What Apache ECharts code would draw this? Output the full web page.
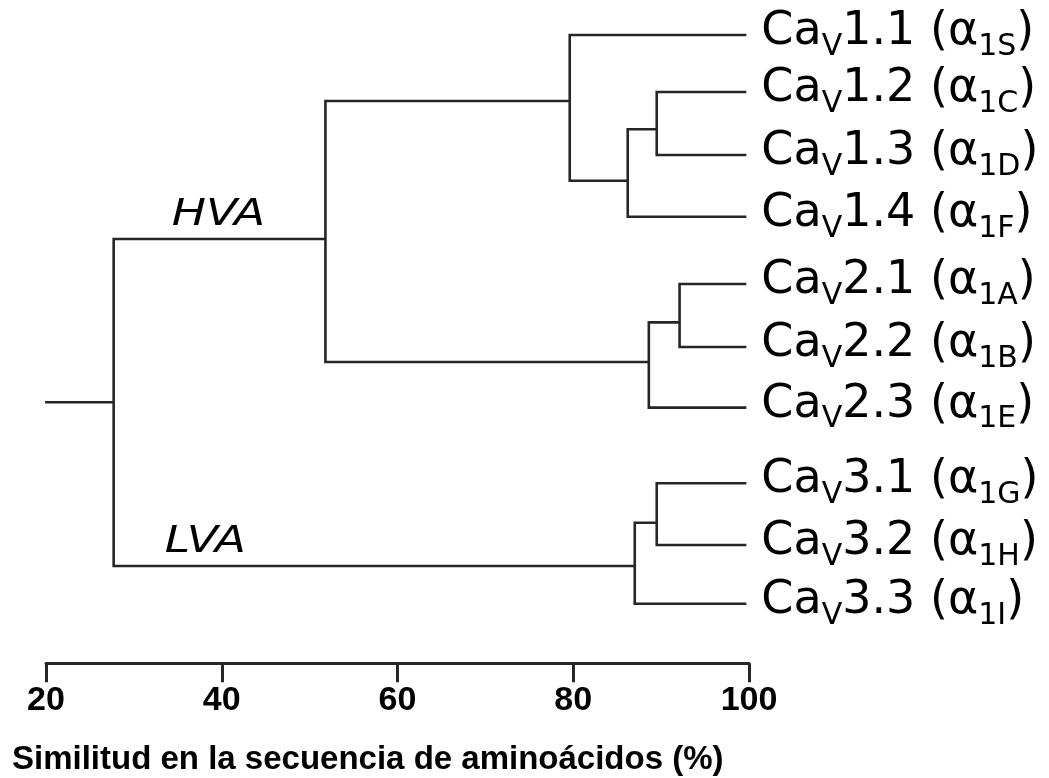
<!DOCTYPE html>
<html>
<head>
<meta charset="utf-8">
<script src="https://cdn.jsdelivr.net/npm/echarts@6/dist/echarts.min.js"></script>
<style>
  html, body { margin: 0; padding: 0; background: #fff; }
  #chart { width: 1049px; height: 778px; }
</style>
</head>
<body>
<div id="chart"></div>
<script>
// ---- data ----
// leaves (top to bottom)
const leafChannel = ['1.1', '1.2', '1.3', '1.4', '2.1', '2.2', '2.3', '3.1', '3.2', '3.3'];
const leafAlpha   = ['1S', '1C', '1D', '1F', '1A', '1B', '1E', '1G', '1H', '1I'];
const leafPos     = [0, 0.95, 2.0, 3.03, 4.15, 5.2, 6.21, 7.47, 8.5, 9.48];
const leafSimilarity = 99.7;

// internal nodes: children ids (L = leaf index, N = node index), similarity (%) and vertical position
const nodeChildren = [
  ['L1', 'L2'],
  ['N0', 'L3'],
  ['L0', 'N1'],
  ['L4', 'L5'],
  ['N3', 'L6'],
  ['N2', 'N4'],
  ['L7', 'L8'],
  ['N6', 'L9'],
  ['N5', 'N7']
];
const nodeSimilarity = [89.5, 86.2, 79.6, 92.1, 88.6, 51.8, 89.5, 87.0, 27.7];
const nodePos        = [1.57, 2.43, 1.1, 4.79, 5.45, 3.4, 8.13, 8.85, 6.12];
const rootStart = 19.9;

// clade labels
const cladeNames = ['HVA', 'LVA'];
const cladeNode  = [5, 7];
const cladeX     = [34.3, 33.5];

const xTicks = [20, 40, 60, 80, 100];
const xTitle = 'Similitud en la secuencia de aminoácidos (%)';

// ---- build ----
function ref(id) {
  const i = +id.slice(1);
  if (id[0] === 'L') return [leafSimilarity, leafPos[i]];
  return [nodeSimilarity[i], nodePos[i]];
}
const branchData = nodeChildren.map((ch, i) => {
  const a = ref(ch[0]), b = ref(ch[1]);
  return [nodeSimilarity[i], nodePos[i], a[0], a[1], b[0], b[1]];
});
const rootIdx = nodeSimilarity.length - 1;
const stubData = [[rootStart, nodePos[rootIdx], nodeSimilarity[rootIdx], nodePos[rootIdx]]];
const leafData = leafChannel.map((c, i) => [leafSimilarity, leafPos[i], i]);
const cladeData = cladeNames.map((n, i) => [cladeX[i], nodePos[cladeNode[i]], i]);

const LINE = '#262626';
const chart = echarts.init(document.getElementById('chart'), null, { renderer: 'canvas' });

chart.setOption({
  backgroundColor: '#fff',
  animation: false,
  title: {
    text: xTitle,
    left: 7, top: 738,
    textStyle: { fontFamily: 'Liberation Sans', fontWeight: 'bold', fontSize: 33, color: '#000' }
  },
  grid: { left: 46, right: 300, top: 35, height: 628.2 },
  xAxis: {
    type: 'value', min: 20, max: 100, interval: 20, position: 'bottom',
    axisLine: { onZero: false, lineStyle: { color: LINE, width: 3 } },
    axisTick: { length: 19, lineStyle: { color: LINE, width: 3 } },
    axisLabel: {
      margin: 20, fontSize: 34, fontWeight: 'bold', fontFamily: 'Liberation Sans', color: '#000',
      formatter: v => xTicks.includes(v) ? String(v) : ''
    },
    splitLine: { show: false }
  },
  yAxis: {
    type: 'value', min: 0, max: 10.47, inverse: true, show: false, splitLine: { show: false }
  },
  series: [
    {
      type: 'custom',
      data: branchData,
      renderItem: (params, api) => {
        const p  = api.coord([api.value(0), api.value(1)]);
        const c1 = api.coord([api.value(2), api.value(3)]);
        const c2 = api.coord([api.value(4), api.value(5)]);
        return {
          type: 'polyline',
          shape: { points: [[c1[0], c1[1]], [p[0], c1[1]], [p[0], c2[1]], [c2[0], c2[1]]] },
          style: { stroke: LINE, lineWidth: 2.6, fill: null }
        };
      }
    },
    {
      type: 'custom',
      data: stubData,
      renderItem: (params, api) => {
        const a = api.coord([api.value(0), api.value(1)]);
        const b = api.coord([api.value(2), api.value(3)]);
        return {
          type: 'line',
          shape: { x1: a[0], y1: a[1], x2: b[0], y2: b[1] },
          style: { stroke: LINE, lineWidth: 2.6 }
        };
      }
    },
    {
      type: 'custom',
      data: leafData,
      renderItem: (params, api) => {
        const p = api.coord([api.value(0), api.value(1)]);
        const i = api.value(2);
        return {
          type: 'text',
          style: {
            x: p[0] + 15, y: p[1] - 3,
            text: '{m|Ca}{s|V}{m|' + leafChannel[i] + ' (α}{s|' + leafAlpha[i] + '}{m|)}',
            align: 'left', verticalAlign: 'middle',
            rich: {
              m: { fontFamily: 'DejaVu Sans', fontSize: 46, lineHeight: 60, fill: '#000' },
              s: { fontFamily: 'DejaVu Sans', fontSize: 30, lineHeight: 20, verticalAlign: 'bottom', fill: '#000' }
            }
          }
        };
      }
    },
    {
      type: 'custom',
      data: cladeData,
      renderItem: (params, api) => {
        const p = api.coord([api.value(0), api.value(1)]);
        const i = api.value(2);
        return {
          type: 'text',
          x: p[0], y: p[1] - 5,
          scaleX: 1.23,
          style: {
            x: 0, y: 0,
            text: cladeNames[i],
            align: 'left', verticalAlign: 'bottom',
            fontFamily: 'DejaVu Sans', fontStyle: 'italic', fontSize: 37, fill: '#000'
          }
        };
      }
    }
  ]
});
</script>
</body>
</html>
